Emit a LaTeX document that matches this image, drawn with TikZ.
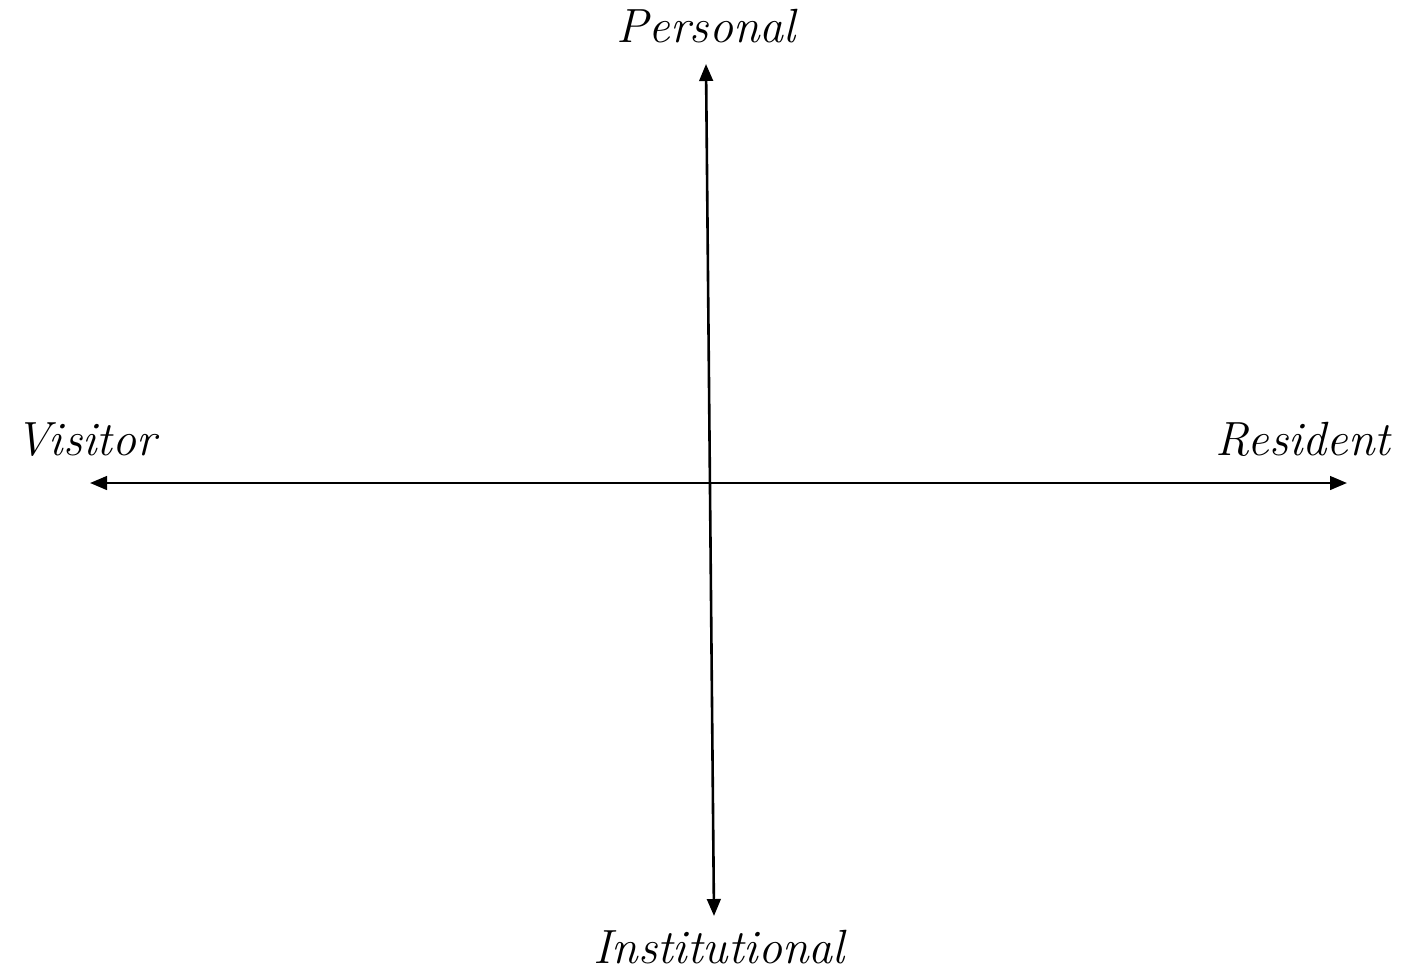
\documentclass[tikz,border=0pt]{standalone}
\usetikzlibrary{arrows.meta}
\begin{document}
\begin{tikzpicture}[x=0.5pt,y=-0.5pt,
  axis/.style={line width=1.3pt,{Triangle[length=8.5pt,width=6.8pt]}-{Triangle[length=8.5pt,width=6.8pt]}},
  lbl/.style={font=\fontsize{24}{28}\selectfont\itshape,inner sep=0pt,anchor=base}]
\useasboundingbox (0,0) rectangle (1408,976);
\coordinate (top) at (706,64);
\coordinate (bot) at (714,916);
\coordinate (left) at (90,483);
\coordinate (right) at (1347,483);
\draw[axis] (top) -- (bot);
\draw[axis] (left) -- (right);
\node[lbl] (personal) at (706,42) {Personal};
\node[lbl] (visitor) at (86,455) {Visitor};
\node[lbl] (resident) at (1303,455) {Resident};
\node[lbl] (institutional) at (719,963) {Institutional};
\end{tikzpicture}
\end{document}
